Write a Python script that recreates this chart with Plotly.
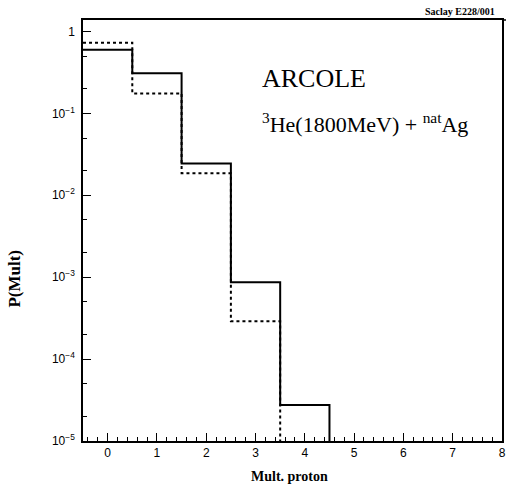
import plotly.graph_objects as go

# Data
bin_centers_solid = [0, 1, 2, 3, 4]
prob_solid = [0.60, 0.31, 0.0245, 8.7e-4, 2.75e-5]
bin_centers_dashed = [0, 1, 2, 3]
prob_dashed = [0.73, 0.175, 0.0186, 2.9e-4]

y_floor = 1e-5
y_tickvals = [1e-5, 1e-4, 1e-3, 1e-2, 1e-1, 1]
y_ticktext = ["10<sup>−5</sup>", "10<sup>−4</sup>", "10<sup>−3</sup>",
              "10<sup>−2</sup>", "10<sup>−1</sup>", "1"]
x_tickvals = [0, 1, 2, 3, 4, 5, 6, 7, 8]


def step_xy(centers, vals):
    xs = [c - 0.5 for c in centers] + [centers[-1] + 0.5, centers[-1] + 0.5]
    ys = list(vals) + [vals[-1], y_floor]
    return xs, ys


fig = go.Figure()
xs, ys = step_xy(bin_centers_dashed, prob_dashed)
fig.add_trace(go.Scatter(x=xs, y=ys, mode="lines", line_shape="hv",
                         line=dict(color="black", width=2, dash="dot"),
                         showlegend=False, hoverinfo="skip"))
xs, ys = step_xy(bin_centers_solid, prob_solid)
fig.add_trace(go.Scatter(x=xs, y=ys, mode="lines", line_shape="hv",
                         line=dict(color="black", width=2),
                         showlegend=False, hoverinfo="skip"))

tickfont = dict(family="Liberation Sans, Arial, sans-serif", size=12, color="black")
serif = "Liberation Serif, Times New Roman, serif"

fig.update_layout(
    width=506, height=491,
    margin=dict(l=83, r=4, t=20, b=50),
    paper_bgcolor="white", plot_bgcolor="white",
    xaxis=dict(range=[-0.5, 8], tickvals=x_tickvals, ticks="inside", ticklen=8,
               tickwidth=1, tickcolor="black", showline=True, linecolor="black",
               linewidth=1.5, mirror=True, showgrid=False, zeroline=False,
               tickfont=tickfont, automargin=False,
               minor=dict(dtick=0.2, ticks="inside", ticklen=4, tickcolor="black")),
    yaxis=dict(type="log", range=[-5, 0.14], tickvals=y_tickvals, ticktext=y_ticktext,
               ticks="inside", ticklen=8, tickwidth=1, tickcolor="black",
               showline=True, linecolor="black", linewidth=1.5, mirror=True,
               showgrid=False, zeroline=False, tickfont=tickfont, automargin=False,
               ticklabelstandoff=4,
               minor=dict(ticks="inside", ticklen=4, tickcolor="black", showgrid=False)),
    shapes=[dict(type="line", xref="paper", yref="paper", x0=1, x1=1.01, y0=1, y1=1,
                 line=dict(color="black", width=1.5))],
    annotations=[
        dict(text="<b>Mult. proton</b>", xref="paper", yref="paper", x=0.492, y=-0.085,
             xanchor="center", yanchor="middle", showarrow=False,
             font=dict(family=serif, size=14, color="black")),
        dict(text="<b>P(Mult)</b>", xref="paper", yref="paper", x=-0.163, y=0.385,
             xanchor="center", yanchor="middle", showarrow=False, textangle=-90,
             font=dict(family=serif, size=17, color="black")),
        dict(text="ARCOLE", xref="paper", yref="paper", x=0.422, y=0.862,
             xanchor="left", yanchor="middle", showarrow=False,
             font=dict(family=serif, size=26, color="black")),
        dict(text="<sup>3</sup>He(1800MeV) + <sup>nat</sup>Ag", xref="paper", yref="paper",
             x=0.422, y=0.755, xanchor="left", yanchor="middle", showarrow=False,
             font=dict(family=serif, size=22, color="black")),
        dict(text="<b>Saclay E228/001</b>", xref="paper", yref="paper",
             x=0.9, y=1.0, xanchor="center", yanchor="bottom", yshift=1, showarrow=False,
             font=dict(family=serif, size=10, color="black")),
    ],
)

fig.write_html("out.html", config={"displayModeBar": False},
               post_script="document.body.style.margin='0px';")
